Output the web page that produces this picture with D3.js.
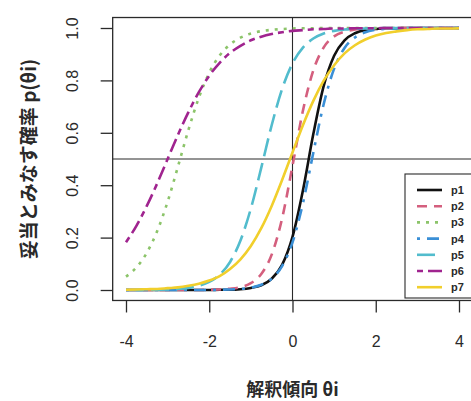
<!DOCTYPE html>
<html><head><meta charset="utf-8">
<script src="https://cdn.jsdelivr.net/npm/d3@7"></script>
<style>html,body{margin:0;padding:0;background:#fff;}svg{display:block;}</style>
</head><body>
<svg id="c" width="471" height="401"></svg>
<script>
const theta = [-4,-3.75,-3.5,-3.25,-3,-2.75,-2.5,-2.25,-2,-1.75,-1.5,-1.25,-1,-0.75,-0.5,-0.25,0,0.25,0.5,0.75,1,1.25,1.5,1.75,2,2.25,2.5,2.75,3,3.25,3.5,3.75,4];
const seriesNames = ["p1","p2","p3","p4","p5","p6","p7"];
const p1 = [0,0,0,0,0,0,0,0,0,0.001,0.001,0.003,0.008,0.018,0.043,0.096,0.203,0.380,0.595,0.779,0.894,0.953,0.980,0.992,0.996,0.999,0.999,1,1,1,1,1,1];
const p2 = [0,0,0,0,0,0,0,0,0.001,0.002,0.005,0.011,0.026,0.061,0.135,0.273,0.474,0.684,0.838,0.926,0.968,0.986,0.994,0.998,0.999,1,1,1,1,1,1,1,1];
const p3 = [0.051,0.086,0.142,0.225,0.337,0.472,0.611,0.734,0.829,0.895,0.937,0.963,0.979,0.988,0.993,0.996,0.998,0.999,0.999,1,1,1,1,1,1,1,1,1,1,1,1,1,1];
const p4 = [0,0,0,0,0,0,0,0,0,0.001,0.002,0.004,0.009,0.020,0.043,0.091,0.182,0.331,0.524,0.710,0.845,0.924,0.964,0.984,0.993,0.997,0.998,0.999,1,1,1,1,1];
const p5 = [0,0,0.001,0.001,0.002,0.004,0.008,0.016,0.031,0.058,0.107,0.189,0.311,0.467,0.629,0.767,0.865,0.925,0.960,0.979,0.989,0.994,0.997,0.998,0.999,1,1,1,1,1,1,1,1];
const p6 = [0.182,0.245,0.321,0.407,0.5,0.593,0.679,0.755,0.818,0.867,0.905,0.932,0.953,0.967,0.977,0.984,0.989,0.992,0.995,0.996,0.998,0.998,0.999,0.999,0.999,1,1,1,1,1,1,1,1];
const p7 = [0.001,0.002,0.003,0.004,0.007,0.010,0.016,0.024,0.036,0.053,0.080,0.117,0.168,0.236,0.321,0.420,0.525,0.629,0.722,0.799,0.858,0.903,0.934,0.956,0.971,0.981,0.987,0.992,0.995,0.996,0.998,0.998,0.999];
const xTicks = [-4,-2,0,2,4];
const yTicks = [0,0.2,0.4,0.6,0.8,1.0];
const xTitle = "解釈傾向 θi";
const yTitle = "妥当とみなす確率 p(θi)";

const values = [p1,p2,p3,p4,p5,p6,p7];
const colors = ["#111111","#d45f7e","#8cc46a","#3a8fd6","#52bccd","#a0248f","#f1cf2c"];
const dashes = [null,"10,7","3,6","3,7,12,7","18,7","6,5,14,5",null];

const svg = d3.select("#c");
const x = d3.scaleLinear().domain([-4,4]).range([126,459]);
const y = d3.scaleLinear().domain([0,1]).range([290,28]);
const box = {l:x(-4.32), r:x(4.32), t:y(1.04), b:y(-0.04)};
const ink = "#2a2a2a";

svg.append("clipPath").attr("id","clp").append("rect")
  .attr("x",box.l).attr("y",box.t).attr("width",box.r-box.l).attr("height",box.b-box.t);

const plot = svg.append("g").attr("clip-path","url(#clp)");
plot.append("line").attr("x1",x(0)).attr("x2",x(0)).attr("y1",box.t).attr("y2",box.b)
  .attr("stroke",ink).attr("stroke-width",1.1);
plot.append("line").attr("x1",box.l).attr("x2",box.r).attr("y1",y(0.5)).attr("y2",y(0.5))
  .attr("stroke",ink).attr("stroke-width",1.1);

const line = d3.line().x(d=>x(d[0])).y(d=>y(d[1])).curve(d3.curveMonotoneX);
values.forEach((vals,i)=>{
  plot.append("path").datum(theta.map((t,j)=>[t,vals[j]]))
    .attr("d",line).attr("fill","none").attr("stroke",colors[i])
    .attr("stroke-width",2.6).attr("stroke-dasharray",dashes[i]);
});

svg.append("rect").attr("x",box.l).attr("y",box.t).attr("width",box.r-box.l).attr("height",box.b-box.t)
  .attr("fill","none").attr("stroke",ink).attr("stroke-width",1.3);

const xAxis = d3.axisBottom(x).tickValues(xTicks).tickSize(12).tickFormat(d=>String(d));
const gx = svg.append("g").attr("transform",`translate(0,${box.b})`).call(xAxis);
gx.select(".domain").remove();
gx.selectAll("line").attr("stroke",ink).attr("stroke-width",1.3);
gx.selectAll("text").attr("fill",ink).style("font-family","'Liberation Sans',Arial,sans-serif").style("font-size","16px").attr("dy","0.35em").attr("y",41);

const yAxis = d3.axisLeft(y).tickValues(yTicks).tickSize(12).tickFormat(d3.format(".1f"));
const gy = svg.append("g").attr("transform",`translate(${box.l},0)`).call(yAxis);
gy.select(".domain").remove();
gy.selectAll("line").attr("stroke",ink).attr("stroke-width",1.3);
gy.selectAll("text").attr("fill",ink).style("font-family","'Liberation Sans',Arial,sans-serif").style("font-size","16px")
  .attr("x",null).attr("dy",null).attr("text-anchor","middle").attr("dominant-baseline","central")
  .attr("transform","translate(-40,0) rotate(-90)");

svg.append("text").attr("x",292.5).attr("y",388).attr("text-anchor","middle").attr("dominant-baseline","central")
  .attr("fill",ink).style("font-family","'Noto Sans CJK JP','Liberation Sans',sans-serif").style("font-size","18px").style("font-weight","bold")
  .text(xTitle);
svg.append("text").attr("transform",`translate(27,${(box.t+box.b)/2}) rotate(-90)`).attr("text-anchor","middle").attr("dominant-baseline","central")
  .attr("fill",ink).style("font-family","'Noto Sans CJK JP','Liberation Sans',sans-serif").style("font-size","19px").style("font-weight","bold")
  .text(yTitle);

const lg = svg.append("g");
lg.append("rect").attr("x",405).attr("y",174).attr("width",80).attr("height",124)
  .attr("fill","#fff").attr("stroke",ink).attr("stroke-width",1.1);
seriesNames.forEach((n,i)=>{
  const yy = 190 + i*16.2;
  lg.append("line").attr("x1",417).attr("x2",442).attr("y1",yy).attr("y2",yy)
    .attr("stroke",colors[i]).attr("stroke-width",2.6).attr("stroke-dasharray",dashes[i]);
  lg.append("text").attr("x",451).attr("y",yy).attr("dominant-baseline","central")
    .attr("fill",ink).style("font-family","'Liberation Sans',Arial,sans-serif").style("font-size","11px").style("font-weight","bold")
    .text(n);
});
</script>
</body></html>
